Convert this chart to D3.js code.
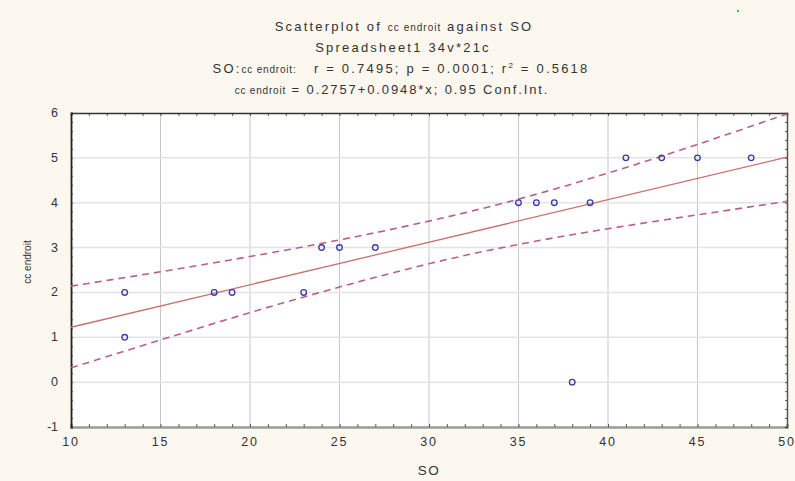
<!DOCTYPE html>
<html>
<head>
<meta charset="utf-8">
<script src="https://cdn.jsdelivr.net/npm/d3@7"></script>
<style>
  body { margin:0; background:#fcf8f0; }
  text { font-family: "Liberation Sans", Arial, sans-serif; fill:#333; white-space: pre; }
</style>
</head>
<body>
<div id="chart"></div>
<script>
// data
const so_values = [13, 13, 18, 19, 23, 24, 25, 27, 35, 36, 37, 38, 39, 41, 43, 45, 48];
const cc_values = [2, 1, 2, 2, 2, 3, 3, 3, 4, 4, 4, 0, 4, 5, 5, 5, 5];
const fit_intercept = 0.2757;
const fit_slope = 0.0948;
const ci_x = [10, 15, 20, 25, 30, 35, 40, 45, 50];
const ci_upper = [2.14, 2.46, 2.80, 3.17, 3.59, 4.08, 4.66, 5.30, 5.98];
const ci_lower = [0.32, 0.94, 1.55, 2.12, 2.64, 3.07, 3.42, 3.73, 4.03];
const x_ticks = [10, 15, 20, 25, 30, 35, 40, 45, 50];
const y_ticks = [-1, 0, 1, 2, 3, 4, 5, 6];

const w = 795, h = 481;
const margin = {top: 113, right: 8, bottom: 54, left: 71};

const svg = d3.select("#chart").append("svg")
  .attr("width", w).attr("height", h);

svg.append("rect").attr("width", w).attr("height", h).attr("fill", "#fcf8f0");

let x = d3.scaleLinear().domain([10, 50]).range([margin.left, w - margin.right]);
let y = d3.scaleLinear().domain([-1, 6]).range([h - margin.bottom, margin.top]);

// plot area
svg.append("rect")
  .attr("x", x(10)).attr("y", y(6))
  .attr("width", x(50) - x(10)).attr("height", y(-1) - y(6))
  .attr("fill", "#ffffff");

// grid
svg.append("g").selectAll("line").data(x_ticks.slice(1, -1)).enter().append("line")
  .attr("x1", d => x(d)).attr("x2", d => x(d))
  .attr("y1", y(6)).attr("y2", y(-1))
  .attr("stroke", "#c8c8c8").attr("stroke-width", 1);
svg.append("g").selectAll("line").data(y_ticks.slice(1, -1)).enter().append("line")
  .attr("x1", x(10)).attr("x2", x(50))
  .attr("y1", d => y(d)).attr("y2", d => y(d))
  .attr("stroke", "#e4e4e4").attr("stroke-width", 1.5);

// axes, ticks inward
const xAxisB = d3.axisBottom(x).tickValues(d3.range(10, 50.1, 1)).tickSize(-3).tickFormat("");
const xAxisT = d3.axisTop(x).tickValues(d3.range(10, 50.1, 1)).tickSize(-3).tickFormat("");
const yAxisL = d3.axisLeft(y).tickValues(d3.range(-1, 6.01, 0.2)).tickSize(-2).tickFormat("");
const yAxisR = d3.axisRight(y).tickValues(d3.range(-1, 6.01, 0.2)).tickSize(-2).tickFormat("");

function styleAx(g, col, sw) {
  g.select(".domain").attr("stroke", col).attr("stroke-width", sw);
  g.selectAll(".tick line").attr("stroke", "#333").attr("stroke-width", 0.8);
}
svg.append("g").attr("transform", `translate(0,${y(-1)})`).call(xAxisB).call(g => styleAx(g, "#9a9a9a", 2.5));
svg.append("g").attr("transform", `translate(0,${y(6)})`).call(xAxisT).call(g => styleAx(g, "#333", 1.5));
svg.append("g").attr("transform", `translate(${x(10)},0)`).call(yAxisL).call(g => styleAx(g, "#222", 1.8));
svg.append("g").attr("transform", `translate(${x(50)},0)`).call(yAxisR).call(g => styleAx(g, "#555", 1.5));

// major tick labels
svg.append("g").selectAll("text").data(x_ticks).enter().append("text")
  .attr("x", d => x(d)).attr("y", y(-1) + 19)
  .attr("text-anchor", "middle").attr("font-size", 12.5).attr("letter-spacing", 1.8)
  .text(d => d);
svg.append("g").selectAll("text").data(y_ticks).enter().append("text")
  .attr("x", x(10) - 13).attr("y", d => y(d) + 4)
  .attr("text-anchor", "end").attr("font-size", 12.5)
  .text(d => d);

// confidence band
const ciLine = d3.line().x(d => x(d[0])).y(d => y(d[1])).curve(d3.curveNatural);
svg.append("path").datum(ci_x.map((d, i) => [d, ci_upper[i]]))
  .attr("d", ciLine).attr("fill", "none").attr("stroke", "#b8608a")
  .attr("stroke-width", 1.6).attr("stroke-dasharray", "7,5");
svg.append("path").datum(ci_x.map((d, i) => [d, ci_lower[i]]))
  .attr("d", ciLine).attr("fill", "none").attr("stroke", "#b8608a")
  .attr("stroke-width", 1.6).attr("stroke-dasharray", "7,5");

// fitted line
svg.append("line")
  .attr("x1", x(10)).attr("y1", y(fit_intercept + fit_slope * 10))
  .attr("x2", x(50)).attr("y2", y(fit_intercept + fit_slope * 50))
  .attr("stroke", "#c87070").attr("stroke-width", 1.3);

// points
svg.append("g").selectAll("circle").data(so_values).enter().append("circle")
  .attr("cx", d => x(d)).attr("cy", (d, i) => y(cc_values[i]))
  .attr("r", 2.8).attr("fill", "none").attr("stroke", "#3a3aa8").attr("stroke-width", 1.3);

// titles
const t = svg.append("g").attr("text-anchor", "middle").attr("font-size", 13).attr("letter-spacing", 2.2);
const t1 = t.append("text").attr("x", 404).attr("y", 31);
t1.append("tspan").text("Scatterplot of ");
t1.append("tspan").attr("font-size", 10).attr("letter-spacing", 1).text("cc endroit");
t1.append("tspan").text(" against SO");
t.append("text").attr("x", 403).attr("y", 52).text("Spreadsheet1 34v*21c");
const t3 = t.append("text").attr("x", 401).attr("y", 73);
t3.append("tspan").text("SO:");
t3.append("tspan").attr("font-size", 10).attr("letter-spacing", 0.8).text("cc endroit:");
t3.append("tspan").text("   r = 0.7495; p = 0.0001; r");
t3.append("tspan").attr("font-size", 8).attr("dy", -5).text("2");
t3.append("tspan").attr("dy", 5).text(" = 0.5618");
const t4 = t.append("text").attr("x", 392).attr("y", 94).attr("letter-spacing", 1.9);
t4.append("tspan").attr("font-size", 10).attr("letter-spacing", 0.8).text("cc endroit");
t4.append("tspan").text(" = 0.2757+0.0948*x; 0.95 Conf.Int.");

// axis titles
svg.append("text").attr("x", 429).attr("y", 475).attr("text-anchor", "middle")
  .attr("font-size", 13.5).attr("letter-spacing", 1.5).text("SO");
svg.append("text").attr("transform", "translate(31,262) rotate(-90)")
  .attr("text-anchor", "middle").attr("font-size", 10).text("cc endroit");

// little green speck top right
svg.append("rect").attr("x", 737).attr("y", 10).attr("width", 2).attr("height", 2).attr("fill", "#3c3");
</script>
</body>
</html>
